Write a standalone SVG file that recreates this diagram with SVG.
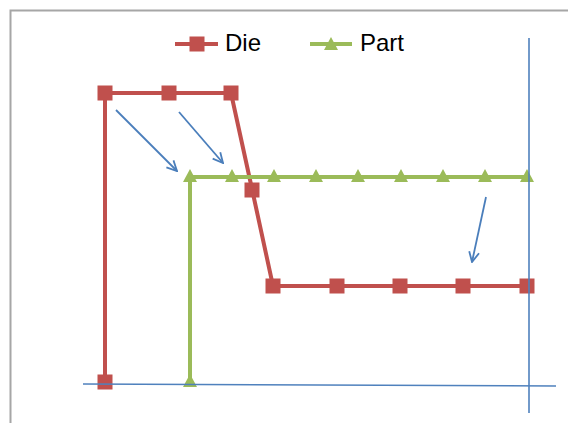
<svg xmlns="http://www.w3.org/2000/svg" width="568" height="423" viewBox="0 0 568 423">
<defs>
<style>
.die{fill:none;stroke:#c0504d;stroke-width:4;stroke-linejoin:round}
.part{fill:none;stroke:#9bbb59;stroke-width:4;stroke-linejoin:round}
.ax{fill:none;stroke:#4f81bd;stroke-width:1.6}
.arr{fill:none;stroke:#4a7ebb;stroke-width:1.8;marker-end:url(#ah)}
.lbl{font-family:"Liberation Sans",Arial,sans-serif;font-size:24px;fill:#000}
</style>
<rect id="sq" x="-7.5" y="-7.5" width="15" height="15" fill="#c0504d"/>
<path id="tri" d="M0,-7 L7,6 L-7,6 Z" fill="#9bbb59"/>
<marker id="ah" viewBox="0 0 12 12" refX="11" refY="6" markerWidth="12" markerHeight="12" markerUnits="userSpaceOnUse" orient="auto">
<path d="M1,1 L11,6 L1,11" fill="none" stroke="#4a7ebb" stroke-width="1.8"/>
</marker>
</defs>
<rect width="568" height="423" fill="#fff"/>
<path d="M10.5,423 V10.5 H568" fill="none" stroke="#a6a6a6" stroke-width="2"/>
<g id="legend">
<line x1="175" y1="44" x2="218" y2="44" class="die"/>
<use href="#sq" x="197" y="44"/>
<text x="225" y="51" class="lbl">Die</text>
<line x1="310" y1="44" x2="352" y2="44" class="part"/>
<use href="#tri" x="331" y="44"/>
<text x="360" y="51" class="lbl">Part</text>
</g>
<g id="die">
<polyline points="105,382 105,93 169,93 231,93 252,189 273,286 337,286 400,286 463,286 527,286" class="die"/>
<use href="#sq" x="105" y="382"/>
<use href="#sq" x="105" y="93"/>
<use href="#sq" x="169" y="93"/>
<use href="#sq" x="231" y="93"/>
<use href="#sq" x="252" y="190"/>
<use href="#sq" x="273" y="286"/>
<use href="#sq" x="337" y="286"/>
<use href="#sq" x="400" y="286"/>
<use href="#sq" x="463" y="286"/>
<use href="#sq" x="527" y="286"/>
</g>
<g id="part">
<polyline points="190,384 190,177 527,177" class="part"/>
<use href="#tri" x="190" y="381"/>
<use href="#tri" x="190" y="176"/>
<use href="#tri" x="232" y="176"/>
<use href="#tri" x="274" y="176"/>
<use href="#tri" x="316" y="176"/>
<use href="#tri" x="358" y="176"/>
<use href="#tri" x="401" y="176"/>
<use href="#tri" x="443" y="176"/>
<use href="#tri" x="485" y="176"/>
<use href="#tri" x="527" y="176"/>
</g>
<g id="axes">
<line x1="83" y1="384" x2="556" y2="386" class="ax"/>
<line x1="529" y1="38" x2="529" y2="413" class="ax"/>
</g>
<g id="connectors">
<line x1="116" y1="110" x2="177" y2="171" class="arr"/>
<line x1="179" y1="112" x2="223" y2="163" class="arr"/>
<line x1="486" y1="197" x2="472" y2="262" class="arr"/>
</g>
</svg>
